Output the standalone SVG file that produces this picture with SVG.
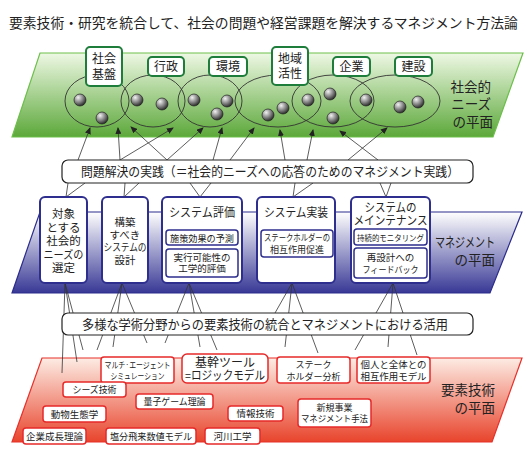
<svg xmlns="http://www.w3.org/2000/svg" width="530" height="456" viewBox="0 0 530 456">
<defs>
<linearGradient id="gG" x1="0" y1="0" x2="0" y2="1"><stop offset="0" stop-color="#eef8e4"/><stop offset="1" stop-color="#5ca83a"/></linearGradient>
<linearGradient id="gP" x1="0" y1="0" x2="0" y2="1"><stop offset="0" stop-color="#ffffff"/><stop offset="1" stop-color="#383896"/></linearGradient>
<linearGradient id="gR" x1="0" y1="0" x2="0" y2="1"><stop offset="0" stop-color="#fdece4"/><stop offset="1" stop-color="#e8442c"/></linearGradient>
<radialGradient id="gD" cx="0.35" cy="0.3" r="0.75"><stop offset="0" stop-color="#f2f2f2"/><stop offset="0.6" stop-color="#777"/><stop offset="1" stop-color="#222"/></radialGradient>
<marker id="ah" markerWidth="7" markerHeight="6" refX="6" refY="3" orient="auto" markerUnits="userSpaceOnUse"><path d="M0,0 L7,3 L0,6 Z" fill="#222"/></marker>
</defs>
<style>
text{font-family:"Noto Sans CJK JP","Noto Sans",sans-serif;fill:#222;text-anchor:middle}
.gbox{fill:#fff;stroke:#1f7d3c;stroke-width:2}
.pbox{fill:#fff;stroke:#2e2e8e;stroke-width:2}
.psub{fill:#fff;stroke:#2e2e8e;stroke-width:1.5}
.rbox{fill:#fff;stroke:#e62a2a;stroke-width:1.5}
.wbox{fill:#fff;stroke:#222;stroke-width:1.2}
.ell{fill:none;stroke:#333;stroke-width:0.9}
.dot{fill:url(#gD);stroke:#222;stroke-width:0.7}
.ln{stroke:#333;stroke-width:0.8;fill:none}
.arr{stroke:#333;stroke-width:0.8;fill:none;marker-end:url(#ah)}
text.plane{font-size:13.5px;text-anchor:end}
</style>

<text x="9" y="28" font-size="13.8" style="text-anchor:start">要素技術・研究を統合して、社会の問題や経営課題を解決するマネジメント方法論</text>

<!-- planes -->
<g id="plane-social">
<polygon points="40,53 523,53 493,137 12,137" fill="url(#gG)" stroke="#6cbf4a" stroke-width="1.2"/>
<text class="plane" x="491" y="92">社会的</text>
<text class="plane" x="491" y="109">ニーズ</text>
<text class="plane" x="493" y="127">の平面</text>
</g>
<g id="plane-management">
<polygon points="40,212 522,212 490,293 12,293" fill="url(#gP)" stroke="#2b2b8c" stroke-width="1.2"/>
<text class="plane" x="495" y="247" textLength="60" lengthAdjust="spacingAndGlyphs">マネジメント</text>
<text class="plane" x="495" y="265">の平面</text>
</g>
<g id="plane-element">
<polygon points="42,358 522,358 492,442 12,442" fill="url(#gR)" stroke="#e8302a" stroke-width="1.2"/>
<text class="plane" x="495" y="395">要素技術</text>
<text class="plane" x="495" y="413">の平面</text>
</g>

<!-- ellipses and dots -->
<g id="needs">
<ellipse class="ell" cx="97" cy="101" rx="32" ry="26"/>
<ellipse class="ell" cx="153" cy="101" rx="32" ry="26"/>
<ellipse class="ell" cx="210" cy="101" rx="32" ry="26"/>
<ellipse class="ell" cx="278" cy="101" rx="43" ry="26"/>
<ellipse class="ell" cx="333" cy="101" rx="41" ry="26"/>
<ellipse class="ell" cx="395" cy="101" rx="45" ry="26"/>
<circle class="dot" cx="80" cy="100" r="6"/>
<circle class="dot" cx="102" cy="118" r="6"/>
<circle class="dot" cx="137" cy="100" r="6"/>
<circle class="dot" cx="162" cy="104" r="6"/>
<circle class="dot" cx="194" cy="100" r="6"/>
<circle class="dot" cx="227" cy="101" r="6"/>
<circle class="dot" cx="217" cy="114" r="6"/>
<circle class="dot" cx="268" cy="115" r="6"/>
<circle class="dot" cx="283" cy="108" r="6"/>
<circle class="dot" cx="308" cy="100" r="6"/>
<circle class="dot" cx="330" cy="94" r="6"/>
<circle class="dot" cx="333" cy="118" r="6"/>
<circle class="dot" cx="366" cy="100" r="6"/>
<circle class="dot" cx="400" cy="107" r="6"/>
<circle class="dot" cx="418" cy="102" r="6"/>
</g>

<!-- connectors -->
<g id="connectors">
<line class="arr" x1="78" y1="160" x2="90" y2="128"/>
<line class="arr" x1="120" y1="160" x2="118" y2="128"/>
<line class="arr" x1="120" y1="160" x2="173" y2="128"/>
<line class="arr" x1="167" y1="160" x2="131" y2="127"/>
<line class="arr" x1="167" y1="160" x2="203" y2="128"/>
<line class="arr" x1="213" y1="160" x2="222" y2="128"/>
<line class="arr" x1="230" y1="160" x2="254" y2="128"/>
<line class="arr" x1="285" y1="160" x2="280" y2="130"/>
<line class="arr" x1="307" y1="160" x2="313" y2="130"/>
<line class="arr" x1="348" y1="160" x2="387" y2="128"/>
<line class="arr" x1="378" y1="160" x2="340" y2="131"/>

<line class="ln" x1="66" y1="197" x2="85" y2="183"/>
<line class="ln" x1="66" y1="197" x2="68" y2="183"/>
<line class="ln" x1="124" y1="197" x2="139" y2="183"/>
<line class="ln" x1="124" y1="197" x2="125" y2="183"/>
<line class="ln" x1="200" y1="197" x2="190" y2="183"/>
<line class="ln" x1="200" y1="197" x2="211" y2="183"/>
<line class="ln" x1="293" y1="197" x2="295" y2="183"/>
<line class="ln" x1="293" y1="197" x2="313" y2="183"/>
<line class="ln" x1="386" y1="197" x2="380" y2="183"/>
<line class="ln" x1="386" y1="197" x2="391" y2="183"/>

<line class="ln" x1="65" y1="283" x2="62" y2="373"/>
<line class="ln" x1="65" y1="283" x2="77" y2="362"/>
<line class="ln" x1="65" y1="283" x2="83" y2="350"/>
<line class="ln" x1="122" y1="283" x2="97" y2="350"/>
<line class="ln" x1="122" y1="283" x2="113" y2="347"/>
<line class="ln" x1="122" y1="283" x2="147" y2="343"/>
<line class="ln" x1="189" y1="283" x2="165" y2="343"/>
<line class="ln" x1="189" y1="283" x2="200" y2="347"/>
<line class="ln" x1="189" y1="283" x2="217" y2="350"/>
<line class="ln" x1="292" y1="283" x2="275" y2="313"/>
<line class="ln" x1="292" y1="283" x2="285" y2="347"/>
<line class="ln" x1="292" y1="283" x2="318" y2="353"/>
<line class="ln" x1="393" y1="283" x2="355" y2="350"/>
<line class="ln" x1="393" y1="283" x2="388" y2="347"/>
<line class="ln" x1="393" y1="283" x2="417" y2="355"/>
</g>

<!-- social need nodes -->
<g id="n-shakai-kiban"><rect class="gbox" x="86" y="47" width="36" height="39" rx="4"/><text x="104" y="63" font-size="12">社会</text><text x="104" y="79" font-size="12">基盤</text></g>
<g id="n-gyosei"><rect class="gbox" x="148" y="57" width="36" height="19" rx="4"/><text x="166" y="71" font-size="12">行政</text></g>
<g id="n-kankyo"><rect class="gbox" x="209" y="57" width="38" height="19" rx="4"/><text x="228" y="71" font-size="12">環境</text></g>
<g id="n-chiiki"><rect class="gbox" x="272" y="47" width="36" height="38" rx="4"/><text x="290" y="63" font-size="12">地域</text><text x="290" y="78" font-size="12">活性</text></g>
<g id="n-kigyo"><rect class="gbox" x="333" y="57" width="37" height="19" rx="4"/><text x="351.5" y="71" font-size="12">企業</text></g>
<g id="n-kensetsu"><rect class="gbox" x="395" y="57" width="37" height="19" rx="4"/><text x="413.5" y="71" font-size="12">建設</text></g>

<!-- practice box -->
<g id="n-practice"><rect class="wbox" x="62" y="160" width="411" height="23" rx="6"/><text x="270" y="176" font-size="13" textLength="378" lengthAdjust="spacingAndGlyphs">問題解決の実践（＝社会的ニーズへの応答のためのマネジメント実践）</text></g>

<!-- management boxes -->
<g id="m-select"><rect class="pbox" x="40" y="197" width="47" height="86" rx="5"/>
<text x="63.5" y="218" font-size="11.5">対象</text><text x="63.5" y="231.5" font-size="11.5">とする</text><text x="63.5" y="245" font-size="11.5">社会的</text><text x="63.5" y="258.5" font-size="11.5" textLength="40" lengthAdjust="spacingAndGlyphs">ニーズの</text><text x="63.5" y="272" font-size="11.5">選定</text></g>
<g id="m-design"><rect class="pbox" x="102" y="197" width="46" height="86" rx="5"/>
<text x="125" y="226" font-size="10.5">構築</text><text x="125" y="238.5" font-size="10.5">すべき</text><text x="125" y="251" font-size="10.5" textLength="43" lengthAdjust="spacingAndGlyphs">システムの</text><text x="125" y="263.5" font-size="10.5">設計</text></g>
<g id="m-eval"><rect class="pbox" x="162" y="197" width="80" height="86" rx="5"/>
<text x="202" y="217" font-size="12" textLength="66" lengthAdjust="spacingAndGlyphs">システム評価</text>
<rect class="psub" x="166" y="230" width="72" height="15" rx="3"/><text x="202" y="241.5" font-size="9.5" textLength="64" lengthAdjust="spacingAndGlyphs">施策効果の予測</text>
<rect class="psub" x="166" y="249" width="72" height="28" rx="3"/><text x="202" y="260.5" font-size="9.5">実行可能性の</text><text x="202" y="272" font-size="9.5">工学的評価</text></g>
<g id="m-impl"><rect class="pbox" x="257" y="197" width="78" height="86" rx="5"/>
<text x="296" y="217" font-size="12" textLength="64" lengthAdjust="spacingAndGlyphs">システム実装</text>
<rect class="psub" x="261" y="230" width="72" height="27" rx="3"/><text x="297" y="241" font-size="9" textLength="66" lengthAdjust="spacingAndGlyphs">ステークホルダーの</text><text x="297" y="253" font-size="9">相互作用促進</text></g>
<g id="m-maint"><rect class="pbox" x="351" y="197" width="79" height="86" rx="5"/>
<text x="390.5" y="212" font-size="12" textLength="52" lengthAdjust="spacingAndGlyphs">システムの</text><text x="390.5" y="225" font-size="12" textLength="74" lengthAdjust="spacingAndGlyphs">メインテナンス</text>
<rect class="psub" x="354" y="229" width="73" height="16" rx="3"/><text x="390.5" y="240.5" font-size="8.5" textLength="67" lengthAdjust="spacingAndGlyphs">持続的モニタリング</text>
<rect class="psub" x="354" y="248" width="73" height="30" rx="3"/><text x="390.5" y="260.5" font-size="9.5">再設計への</text><text x="390.5" y="272.5" font-size="9" textLength="56" lengthAdjust="spacingAndGlyphs">フィードバック</text></g>

<!-- integration box -->
<g id="n-integration"><rect class="wbox" x="62" y="313" width="411" height="22" rx="6"/><text x="265" y="329" font-size="13" textLength="366" lengthAdjust="spacingAndGlyphs">多様な学術分野からの要素技術の統合とマネジメントにおける活用</text></g>

<!-- element technology boxes -->
<g id="e-mas"><rect class="rbox" x="101" y="357" width="73" height="26" rx="3"/><text x="137.5" y="368" font-size="8.5" textLength="66" lengthAdjust="spacingAndGlyphs">マルチ·エージェント</text><text x="137.5" y="379" font-size="8.5" textLength="54" lengthAdjust="spacingAndGlyphs">シミュレーション</text></g>
<g id="e-logic"><rect class="rbox" x="182" y="354" width="86" height="29" rx="5" stroke-width="2.5"/><text x="225" y="366.5" font-size="12">基幹ツール</text><text x="225" y="380" font-size="12" textLength="80" lengthAdjust="spacingAndGlyphs">=ロジックモデル</text></g>
<g id="e-stake"><rect class="rbox" x="277" y="357" width="73" height="26" rx="3"/><text x="313.5" y="368" font-size="9">ステーク</text><text x="313.5" y="379.5" font-size="9" textLength="54" lengthAdjust="spacingAndGlyphs">ホルダー分析</text></g>
<g id="e-indiv"><rect class="rbox" x="357" y="357" width="73" height="26" rx="3"/><text x="393.5" y="368" font-size="9.5" textLength="66" lengthAdjust="spacingAndGlyphs">個人と全体との</text><text x="393.5" y="379.5" font-size="9.5" textLength="66" lengthAdjust="spacingAndGlyphs">相互作用モデル</text></g>
<g id="e-seeds"><rect class="rbox" x="63" y="382" width="63" height="15" rx="3"/><text x="94.5" y="393" font-size="9.5" textLength="44" lengthAdjust="spacingAndGlyphs">シーズ技術</text></g>
<g id="e-quantum"><rect class="rbox" x="136" y="394" width="77" height="15" rx="3"/><text x="174.5" y="405" font-size="9.5" textLength="62" lengthAdjust="spacingAndGlyphs">量子ゲーム理論</text></g>
<g id="e-ecology"><rect class="rbox" x="43" y="406" width="63" height="16" rx="3"/><text x="74.5" y="417.5" font-size="9.5">動物生態学</text></g>
<g id="e-info"><rect class="rbox" x="228" y="406" width="55" height="15" rx="3"/><text x="255.5" y="417" font-size="9.5">情報技術</text></g>
<g id="e-newbiz"><rect class="rbox" x="298" y="399" width="73" height="28" rx="3"/><text x="334.5" y="410.5" font-size="9">新規事業</text><text x="334.5" y="422" font-size="9" textLength="67" lengthAdjust="spacingAndGlyphs">マネジメント手法</text></g>
<g id="e-growth"><rect class="rbox" x="23" y="428" width="63" height="16" rx="3"/><text x="54.5" y="439.5" font-size="9.5">企業成長理論</text></g>
<g id="e-salt"><rect class="rbox" x="106" y="428" width="90" height="16" rx="3"/><text x="151" y="439.5" font-size="9.5" textLength="82" lengthAdjust="spacingAndGlyphs">塩分飛来数値モデル</text></g>
<g id="e-river"><rect class="rbox" x="205" y="428" width="55" height="16" rx="3"/><text x="232.5" y="439.5" font-size="9.5">河川工学</text></g>
</svg>
